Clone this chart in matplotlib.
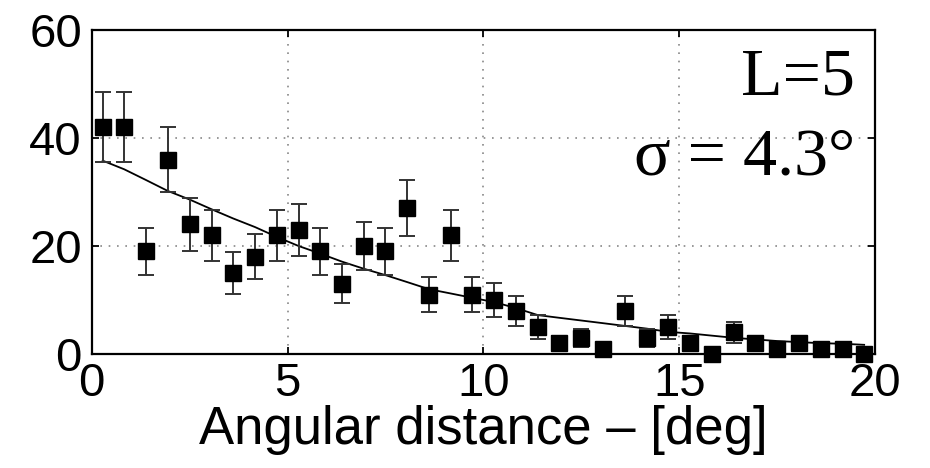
import numpy as np
import matplotlib
matplotlib.use("Agg")
import matplotlib.pyplot as plt

# bin centres of the angular-distance histogram [deg]
angle = [0.28, 0.83, 1.39, 1.94, 2.50, 3.06, 3.61, 4.17, 4.72, 5.28, 5.83, 6.39,
         6.94, 7.50, 8.06, 8.61, 9.17, 9.72, 10.28, 10.83, 11.39, 11.94, 12.50, 13.06,
         13.61, 14.17, 14.72, 15.28, 15.83, 16.39, 16.94, 17.50, 18.06, 18.61, 19.17, 19.72]

counts = [42, 42, 19, 36, 24, 22, 15, 18, 22, 23, 19, 13,
          20, 19, 27, 11, 22, 11, 10, 8, 5, 2, 3, 1,
          8, 3, 5, 2, 0, 4, 2, 1, 2, 1, 1, 0]

errors = [6.5, 6.5, 4.4, 6.0, 4.9, 4.7, 3.9, 4.2, 4.7, 4.8, 4.4, 3.6,
          4.5, 4.4, 5.2, 3.3, 4.7, 3.3, 3.2, 2.8, 2.2, 1.4, 1.7, 1.0,
          2.8, 1.7, 2.2, 1.4, 0.0, 2.0, 1.4, 1.0, 1.4, 1.0, 1.0, 0.0]

# fitted model evaluated at the bin centres
fit = [35.8, 34.2, 32.2, 30.2, 28.6, 26.8, 25.1, 23.5, 21.7, 20.0, 18.6, 17.1,
       15.8, 14.6, 13.3, 12.0, 11.2, 10.4, 9.6, 8.5, 7.2, 6.7, 6.2, 5.7,
       5.2, 4.7, 4.1, 3.8, 3.4, 3.0, 2.7, 2.4, 2.2, 2.0, 1.9, 1.7]

xticks = [0, 5, 10, 15, 20]
yticks = [0, 20, 40, 60]

plt.rcParams['font.family'] = ['Liberation Sans', 'DejaVu Sans']

fig = plt.figure(figsize=(9.3, 4.68), dpi=100)
ax = fig.add_axes([0.0986, 0.2436, 0.8424, 0.6924])

# grid first so it sits under the data
ax.grid(True, color='#888888', linestyle=(0, (1, 4)), linewidth=1.2)
ax.set_axisbelow(True)

ax.plot(angle, fit, color='black', linewidth=1.3, zorder=2)
ax.errorbar(angle, counts, yerr=errors, fmt='s', color='black', ecolor='#333333',
            markersize=11, elinewidth=1.4, capsize=6, capthick=1.4, zorder=3,
            clip_on=False)

ax.set_xlim(0, 20)
ax.set_ylim(0, 60)
ax.set_xticks(xticks)
ax.set_yticks(yticks)
ax.tick_params(direction='in', length=5, width=1.3, labelsize=34,
               top=True, right=True)
ax.tick_params(axis='x', pad=6)
ax.tick_params(axis='y', pad=7)
for s in ax.spines.values():
    s.set_linewidth(1.6)

ax.set_xlabel('Angular distance – [deg]', fontsize=38, labelpad=-1)

serif = ['Liberation Serif', 'DejaVu Serif']
ax.text(0.974, 0.80, 'L=5', transform=ax.transAxes, ha='right', va='baseline',
        fontsize=49, family=serif)
ax.text(0.974, 0.553, 'σ = 4.3°', transform=ax.transAxes, ha='right', va='baseline',
        fontsize=49, family=serif)

fig.savefig('out.png', dpi=100)
